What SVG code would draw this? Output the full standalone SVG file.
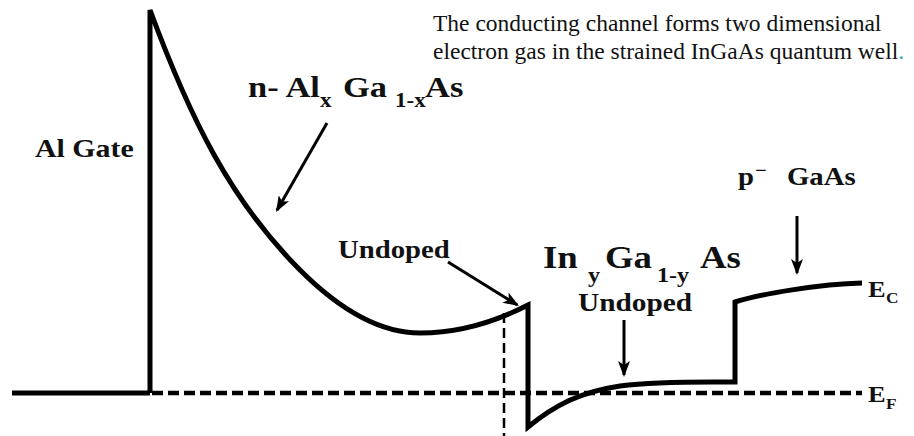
<svg xmlns="http://www.w3.org/2000/svg" width="914" height="436" viewBox="0 0 914 436">
  <defs>
    <style>
      .band{fill:none;stroke:#000;stroke-width:5;stroke-linejoin:miter;stroke-linecap:butt}
      .ef{fill:none;stroke:#000;stroke-width:4.5;stroke-dasharray:11 5}
      .vd{fill:none;stroke:#000;stroke-width:2.5;stroke-dasharray:10 5}
      .arr{fill:none;stroke:#000;stroke-width:3}
      .cap{font-size:23.5px;fill:#111}
      .lb{font-weight:bold;fill:#111}
    </style>
    <marker id="ah" viewBox="0 0 16 12" refX="14" refY="6" markerWidth="16" markerHeight="12" markerUnits="userSpaceOnUse" orient="auto">
      <path d="M0,0 L16,6 L0,12 L4,6 z" fill="#000"/>
    </marker>
  </defs>
  <rect width="914" height="436" fill="#fff"/>

  <g id="connectors">
    <path id="baseline" class="band" d="M12,393 L150,393"/>
    <path id="fermi" class="ef" d="M152,393 L862,393"/>
    <path id="interface" class="vd" d="M504,313 L504,436"/>
    <path id="conduction-band" class="band" d="M150,393 L150,10 C190,118 230,200 300,270 C340,310 380,333 420,333 C460,333 495,322 528,305 L528,427 C555,405 580,392 620,386 C660,381 700,382 735,382 L735,302 C760,294 820,284 862,283"/>
    <line class="arr" x1="327" y1="123" x2="277" y2="210.3" marker-end="url(#ah)"/>
    <line class="arr" x1="448" y1="262" x2="517.3" y2="305" marker-end="url(#ah)"/>
    <line class="arr" x1="624" y1="320" x2="624" y2="375" marker-end="url(#ah)"/>
    <line class="arr" x1="797" y1="216" x2="797" y2="273" marker-end="url(#ah)"/>
  </g>

  <g font-family="Liberation Serif, DejaVu Serif, serif">
  <g id="caption">
    <text class="cap" x="433" y="31">The conducting channel forms two dimensional</text>
    <text class="cap" x="433" y="59">electron gas in the strained InGaAs quantum well<tspan fill="#2aa0b0">.</tspan></text>
  </g>

  <g id="al-gate">
    <text class="lb" transform="scale(1.15,1)" x="30.4" y="157" font-size="26">Al Gate</text>
  </g>

  <g id="n-algaas">
    <text class="lb" transform="scale(1.15,1)" font-size="30"><tspan x="215.7" y="97">n- Al</tspan><tspan x="278.3" y="107" font-size="20">x</tspan><tspan x="298.3" y="97">Ga</tspan><tspan x="343.5" y="107" font-size="20">1-x</tspan><tspan x="369.6" y="97">As</tspan></text>
  </g>

  <g id="undoped-spacer">
    <text class="lb" transform="scale(1.15,1)" x="293.9" y="258" font-size="25">Undoped</text>
  </g>

  <g id="ingaas">
    <text class="lb" transform="scale(1.15,1)" font-size="32"><tspan x="472.2" y="268">In</tspan><tspan x="511.3" y="282" font-size="21">y</tspan><tspan x="526.1" y="268">Ga</tspan><tspan x="571.3" y="282" font-size="21">1-y</tspan><tspan x="608.7" y="268">As</tspan></text>
    <text class="lb" transform="scale(1.15,1)" x="502.6" y="311" font-size="25.5">Undoped</text>
  </g>

  <g id="p-gaas">
    <text class="lb" transform="scale(1.15,1)" font-size="25"><tspan x="641.7" y="185">p</tspan><tspan x="656.5" y="176" font-size="18">−</tspan><tspan x="684.3" y="185">GaAs</tspan></text>
  </g>

  <g id="ec-label">
    <text class="lb" transform="scale(1.15,1)" font-size="23"><tspan x="754.8" y="297">E</tspan><tspan x="770.4" y="303" font-size="15">C</tspan></text>
  </g>

  <g id="ef-label">
    <text class="lb" transform="scale(1.15,1)" font-size="23"><tspan x="754.8" y="402">E</tspan><tspan x="770.4" y="409" font-size="15">F</tspan></text>
  </g>
  </g>
</svg>
